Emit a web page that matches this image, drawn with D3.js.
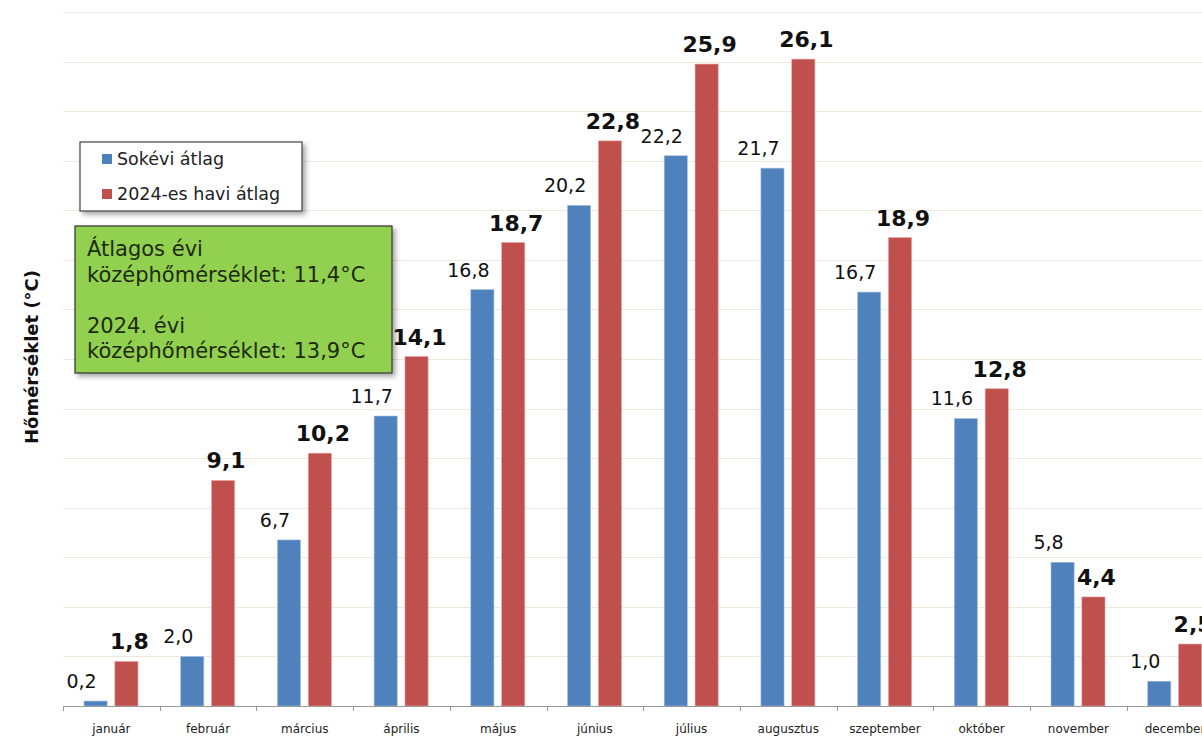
<!doctype html>
<html>
<head>
<meta charset="utf-8">
<script src="https://d3js.org/d3.v7.min.js"></script>
<style>
body { margin: 0; background: #fff; }
svg { display: block; font-family: "DejaVu Sans", Verdana, sans-serif; }
</style>
</head>
<body>
<svg width="1202" height="738"></svg>
<script>
// chart data
var months = ["január", "február", "március", "április", "május", "június",
              "július", "augusztus", "szeptember", "október", "november", "december"];
var series = ["Sokévi átlag", "2024-es havi átlag"];
var longTerm = [0.2, 2.0, 6.7, 11.7, 16.8, 20.2, 22.2, 21.7, 16.7, 11.6, 5.8, 1.0];
var year2024 = [1.8, 9.1, 10.2, 14.1, 18.7, 22.8, 25.9, 26.1, 18.9, 12.8, 4.4, 2.5];
var yTicks = [0, 2, 4, 6, 8, 10, 12, 14, 16, 18, 20, 22, 24, 26, 28];
var infoLines = ["Átlagos évi", "középhőmérséklet: 11,4°C", "", "2024. évi", "középhőmérséklet: 13,9°C"];

var colors = ["#4f81bd", "#c0504d"];
var svg = d3.select("svg");

var left = 63, baseY = 706, topY = 12;
var x0 = d3.scaleBand().domain(months).range([left, left + 12 * 96.7]);
var x1 = d3.scaleBand().domain([0, 1]).range([21, 75]).paddingInner(0.25);
var y = d3.scaleLinear().domain([0, 28]).range([baseY, topY]);

// gridlines
svg.append("g")
    .selectAll("line")
    .data(yTicks.slice(1))
    .enter().append("line")
    .attr("x1", left).attr("x2", 1202)
    .attr("y1", function(d) { return Math.round(y(d)) + 0.5; })
    .attr("y2", function(d) { return Math.round(y(d)) + 0.5; })
    .attr("stroke", "#efe9dc").attr("stroke-width", 1);

// bars
var rows = months.map(function(m, i) { return { m: m, v: [longTerm[i], year2024[i]] }; });
var grp = svg.append("g").selectAll("g")
    .data(rows)
    .enter().append("g")
    .attr("transform", function(d) { return "translate(" + x0(d.m) + ",0)"; });

grp.selectAll("rect")
    .data(function(d) { return d.v; })
    .enter().append("rect")
    .attr("x", function(d, i) { return x1(i); })
    .attr("y", function(d) { return y(d); })
    .attr("width", x1.bandwidth())
    .attr("height", function(d) { return baseY - y(d); })
    .attr("fill", function(d, i) { return colors[i]; })
    .attr("stroke", function(d, i) { return i ? "#e8a6a4" : "#a9c1e0"; })
    .attr("stroke-width", 0.6);

var fmt = function(v) { return v.toFixed(1).replace(".", ","); };

grp.selectAll("text")
    .data(function(d) { return d.v; })
    .enter().append("text")
    .attr("x", function(d, i) { return x1(i) + x1.bandwidth() / 2 + (i ? 3 : -14); })
    .attr("y", function(d, i) { return y(d) - (i ? 12 : 13); })
    .attr("text-anchor", "middle")
    .style("font-size", function(d, i) { return i ? "22px" : "19px"; })
    .style("font-weight", function(d, i) { return i ? "bold" : "normal"; })
    .attr("fill", "#111")
    .text(fmt);

// x axis
var xAxis = svg.append("g")
    .attr("transform", "translate(0," + baseY + ")");
xAxis.append("line")
    .attr("x1", left).attr("x2", 1202)
    .attr("y1", 0.5).attr("y2", 0.5)
    .attr("stroke", "#9a9a9a");
xAxis.selectAll("line.tick")
    .data(months)
    .enter().append("line")
    .attr("class", "tick")
    .attr("x1", function(d) { return Math.round(x0(d)) + 0.5; })
    .attr("x2", function(d) { return Math.round(x0(d)) + 0.5; })
    .attr("y1", 0).attr("y2", 5)
    .attr("stroke", "#9a9a9a");
xAxis.selectAll("text")
    .data(months)
    .enter().append("text")
    .attr("x", function(d) { return x0(d) + x0.bandwidth() / 2; })
    .attr("y", 27)
    .attr("text-anchor", "middle")
    .style("font-size", "12px")
    .attr("fill", "#222")
    .text(function(d) { return d; });

// y label
svg.append("text")
    .attr("transform", "translate(38,357) rotate(-90)")
    .attr("text-anchor", "middle")
    .style("font-size", "18px")
    .style("font-weight", "bold")
    .attr("fill", "#111")
    .text("Hőmérséklet (°C)");

// shadow
var defs = svg.append("defs");
var f = defs.append("filter").attr("id", "shadow").attr("x", "-10%").attr("y", "-10%")
    .attr("width", "130%").attr("height", "140%");
f.append("feDropShadow").attr("dx", 3).attr("dy", 3).attr("stdDeviation", 2.5)
    .attr("flood-color", "#000").attr("flood-opacity", 0.35);

// legend
var lg = svg.append("g").attr("transform", "translate(80,142)");
lg.append("rect")
    .attr("width", 222).attr("height", 69)
    .attr("fill", "#fff").attr("stroke", "#444").attr("stroke-width", 1.2)
    .attr("filter", "url(#shadow)");
series.forEach(function(s, i) {
    lg.append("rect")
        .attr("x", 22).attr("y", 12 + i * 35)
        .attr("width", 10).attr("height", 10)
        .attr("fill", colors[i]);
    lg.append("text")
        .attr("x", 37).attr("y", 23 + i * 35)
        .style("font-size", "17.5px")
        .attr("fill", "#222")
        .text(s);
});

// info box
var ib = svg.append("g").attr("transform", "translate(75,226)");
ib.append("rect")
    .attr("width", 317).attr("height", 147)
    .attr("fill", "#92d050").attr("stroke", "#333").attr("stroke-width", 1.2)
    .attr("filter", "url(#shadow)");
ib.selectAll("text")
    .data(infoLines)
    .enter().append("text")
    .attr("x", 12)
    .attr("y", function(d, i) { return 30 + i * 25.5; })
    .style("font-size", "21px")
    .attr("fill", "#1e2a10")
    .text(function(d) { return d; });
</script>
</body>
</html>
